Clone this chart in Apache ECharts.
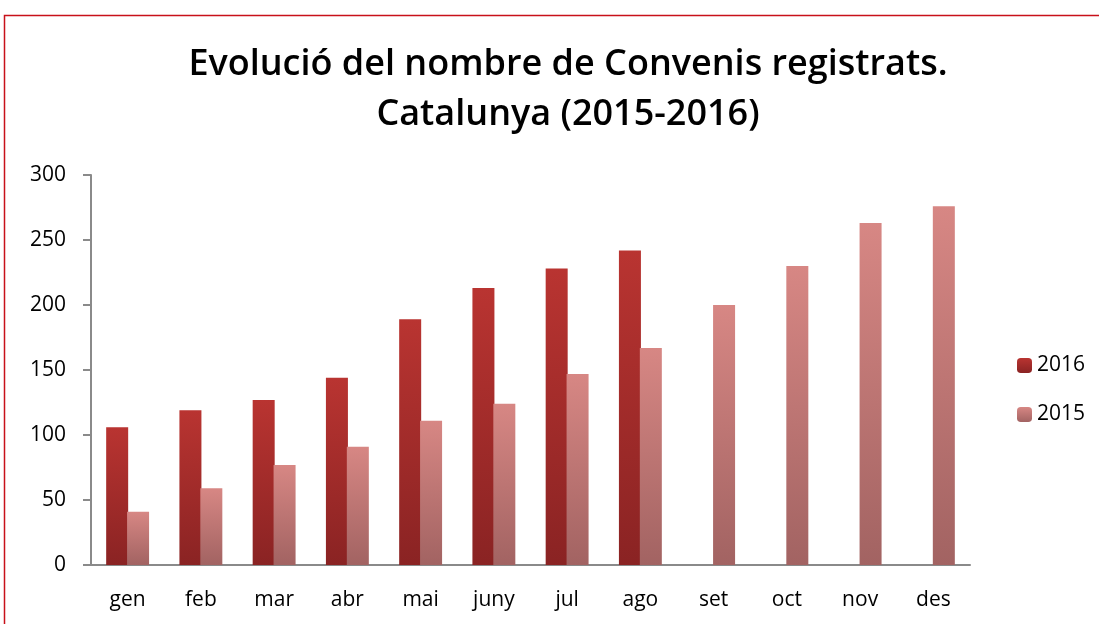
<!DOCTYPE html>
<html>
<head>
<meta charset="utf-8">
<title>Convenis registrats</title>
<script src="https://cdn.jsdelivr.net/npm/echarts@6/dist/echarts.min.js"></script>
<style>
  html, body { margin: 0; padding: 0; background: #fff; }
  #chart { width: 1099px; height: 624px; }
</style>
</head>
<body>
<div id="chart"></div>
<script>
const months = ['gen', 'feb', 'mar', 'abr', 'mai', 'juny', 'jul', 'ago', 'set', 'oct', 'nov', 'des']
const values2016 = [106, 119, 127, 144, 189, 213, 228, 242, null, null, null, null]
const values2015 = [41, 59, 77, 91, 111, 124, 147, 167, 200, 230, 263, 276]
const yTicks = [0, 300, 50]  // min, max, interval

const chart = echarts.init(document.getElementById('chart'))

const grad = (top, bottom) => new echarts.graphic.LinearGradient(0, 0, 0, 1, [
  { offset: 0, color: top },
  { offset: 1, color: bottom }
])

const barShadow = {
  shadowColor: 'rgba(0,0,0,0.22)',
  shadowBlur: 5,
  shadowOffsetX: 3,
  shadowOffsetY: 1
}

const option = {
  backgroundColor: '#fff',
  textStyle: { fontFamily: 'Open Sans' },
  title: {
    text: 'Evolució del nombre de Convenis registrats.\nCatalunya (2015-2016)',
    left: 563,
    top: 35,
    textAlign: 'center',
    textStyle: {
      fontFamily: 'Open Sans',
      fontWeight: 600,
      fontSize: 36,
      lineHeight: 50,
      color: '#000'
    }
  },
  legend: {
    orient: 'vertical',
    left: 1012,
    top: 350,
    itemWidth: 15,
    itemHeight: 15,
    itemGap: 28,
    textStyle: { fontSize: 21, color: '#000', fontFamily: 'Open Sans' },
    data: ['2016', '2015']
  },
  grid: {
    left: 91,
    right: 129,
    top: 175,
    bottom: 59
  },
  xAxis: {
    type: 'category',
    data: months,
    axisLine: { lineStyle: { color: '#8a8a8a', width: 2 } },
    axisTick: { show: false },
    axisLabel: { fontSize: 21, color: '#000', margin: 25 }
  },
  yAxis: {
    type: 'value',
    min: yTicks[0],
    max: yTicks[1],
    interval: yTicks[2],
    axisLine: { show: true, lineStyle: { color: '#8a8a8a', width: 2 } },
    axisTick: { show: true, length: 8, lineStyle: { color: '#8a8a8a', width: 2 } },
    splitLine: { show: false },
    axisLabel: { fontSize: 21, color: '#000', margin: 25 }
  },
  series: [
    {
      name: '2016',
      type: 'bar',
      data: values2016,
      barWidth: 22,
      barGap: '-5%',
      itemStyle: Object.assign({ color: grad('#b93431', '#8a2323') }, barShadow)
    },
    {
      name: '2015',
      type: 'bar',
      data: values2015,
      barWidth: 22,
      itemStyle: Object.assign({ color: grad('#d78784', '#a26362') }, barShadow)
    }
  ],
  graphic: [
    {
      type: 'polyline',
      shape: { points: [[4.5, 624], [4.5, 15.5], [1099, 15.5]] },
      style: { stroke: '#c8101a', lineWidth: 1.5, fill: null },
      silent: true
    }
  ]
}

chart.setOption(option)
</script>
</body>
</html>
